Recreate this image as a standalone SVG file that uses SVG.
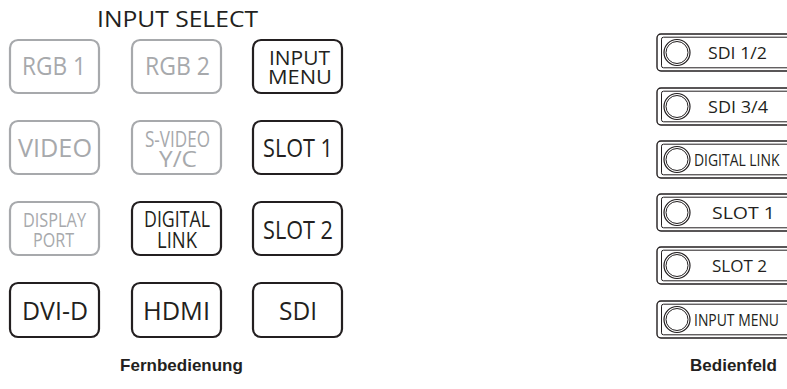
<svg xmlns="http://www.w3.org/2000/svg" width="787" height="389" viewBox="0 0 787 389">
<style>
.bd{fill:#fff;stroke:#231f20;stroke-width:2.2}
.bg{fill:#fff;stroke:#a7a9ac;stroke-width:2.2}
.t{font-family:"Open Sans","Noto Sans",sans-serif;text-anchor:middle}
.td{fill:#231f20}
.tg{fill:#a7a9ac}
.cap{font-family:"Liberation Sans",Arial,sans-serif;font-weight:bold;font-size:17px;fill:#231f20;text-anchor:middle}
.po{fill:#fff;stroke:#231f20;stroke-width:1.4}
.pi{fill:none;stroke:#231f20;stroke-width:1}
.pt{font-family:"Open Sans","Noto Sans",sans-serif;font-size:16px;fill:#231f20}
</style>
<g id="title"><text class="t td" x="177.5" y="27" font-size="21" textLength="161" lengthAdjust="spacingAndGlyphs">INPUT SELECT</text></g>
<g id="remote">
<g id="btn-rgb1"><rect class="bg" x="10" y="40" width="89" height="53" rx="8"/><text class="t tg" x="54" y="75" font-size="26" textLength="64" lengthAdjust="spacingAndGlyphs">RGB 1</text></g>
<g id="btn-rgb2"><rect class="bg" x="132" y="40" width="89" height="53" rx="8"/><text class="t tg" x="177.5" y="75" font-size="26" textLength="65" lengthAdjust="spacingAndGlyphs">RGB 2</text></g>
<g id="btn-input-menu"><rect class="bd" x="253" y="40" width="89" height="53" rx="8"/><text class="t td" font-size="20"><tspan x="299.5" y="65" textLength="61" lengthAdjust="spacingAndGlyphs">INPUT</tspan><tspan x="300" y="83.5" textLength="64" lengthAdjust="spacingAndGlyphs">MENU</tspan></text></g>
<g id="btn-video"><rect class="bg" x="10" y="121" width="89" height="53" rx="8"/><text class="t tg" x="55" y="157" font-size="26" textLength="74" lengthAdjust="spacingAndGlyphs">VIDEO</text></g>
<g id="btn-svideo"><rect class="bg" x="132" y="121" width="89" height="53" rx="8"/><text class="t tg" font-size="21"><tspan x="177.5" y="147" textLength="65" lengthAdjust="spacingAndGlyphs">S-VIDEO</tspan><tspan x="178" y="167" textLength="38" lengthAdjust="spacingAndGlyphs">Y/C</tspan></text></g>
<g id="btn-slot1"><rect class="bd" x="253" y="121" width="89" height="53" rx="8"/><text class="t td" x="298" y="157" font-size="26" textLength="70" lengthAdjust="spacingAndGlyphs">SLOT 1</text></g>
<g id="btn-displayport"><rect class="bg" x="10" y="202" width="89" height="53" rx="8"/><text class="t tg" font-size="20.5"><tspan x="54.5" y="226.5" textLength="63" lengthAdjust="spacingAndGlyphs">DISPLAY</tspan><tspan x="53.5" y="247" textLength="41" lengthAdjust="spacingAndGlyphs">PORT</tspan></text></g>
<g id="btn-digital-link"><rect class="bd" x="132" y="202" width="89" height="53" rx="8"/><text class="t td" font-size="21"><tspan x="177" y="227" textLength="66" lengthAdjust="spacingAndGlyphs">DIGITAL</tspan><tspan x="177" y="247.5" textLength="40" lengthAdjust="spacingAndGlyphs">LINK</tspan></text></g>
<g id="btn-slot2"><rect class="bd" x="253" y="202" width="89" height="53" rx="8"/><text class="t td" x="298" y="239" font-size="26" textLength="70" lengthAdjust="spacingAndGlyphs">SLOT 2</text></g>
<g id="btn-dvid"><rect class="bd" x="10" y="283" width="89" height="54" rx="8"/><text class="t td" x="55" y="320" font-size="26" textLength="66" lengthAdjust="spacingAndGlyphs">DVI-D</text></g>
<g id="btn-hdmi"><rect class="bd" x="132" y="283" width="89" height="54" rx="8"/><text class="t td" x="176.5" y="320" font-size="26" textLength="67" lengthAdjust="spacingAndGlyphs">HDMI</text></g>
<g id="btn-sdi"><rect class="bd" x="253" y="283" width="89" height="54" rx="8"/><text class="t td" x="298" y="320" font-size="26" textLength="38" lengthAdjust="spacingAndGlyphs">SDI</text></g>
<text class="cap" x="181.5" y="371">Fernbedienung</text>
</g>
<defs>
<g id="pbtn">
<rect class="po" x="657" y="0" width="140" height="37" rx="4"/>
<rect class="pi" x="661.5" y="3.2" width="140" height="30.6" rx="2"/>
<circle cx="677" cy="18.5" r="13" fill="#fff" stroke="#231f20" stroke-width="1.2"/>
<circle cx="677" cy="18.5" r="11" fill="none" stroke="#231f20" stroke-width="1"/>
</g>
</defs>
<g id="panel">
<g id="p-sdi12" transform="translate(0,34)"><use href="#pbtn"/><text class="pt" x="708" y="25" textLength="59" lengthAdjust="spacingAndGlyphs">SDI 1/2</text></g>
<g id="p-sdi34" transform="translate(0,88)"><use href="#pbtn"/><text class="pt" x="708" y="25" textLength="60" lengthAdjust="spacingAndGlyphs">SDI 3/4</text></g>
<g id="p-digital-link" transform="translate(0,141)"><use href="#pbtn"/><text class="pt" transform="translate(694,25) scale(0.87,1)">DIGITAL LINK</text></g>
<g id="p-slot1" transform="translate(0,194)"><use href="#pbtn"/><text class="pt" x="712" y="25" textLength="63" lengthAdjust="spacingAndGlyphs">SLOT 1</text></g>
<g id="p-slot2" transform="translate(0,247)"><use href="#pbtn"/><text class="pt" x="712" y="25" textLength="55" lengthAdjust="spacingAndGlyphs">SLOT 2</text></g>
<g id="p-input-menu" transform="translate(0,301)"><use href="#pbtn"/><text class="pt" transform="translate(694,25) scale(0.87,1)">INPUT MENU</text></g>
<text class="cap" x="733.5" y="371">Bedienfeld</text>
</g>
<g id="connectors"/>
</svg>
